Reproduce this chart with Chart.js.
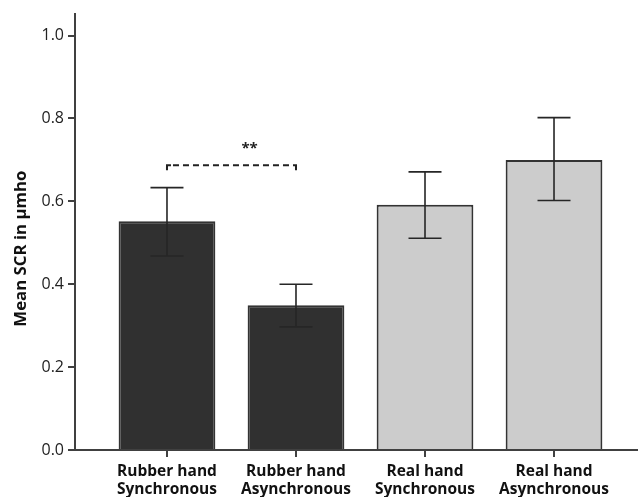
<!DOCTYPE html>
<html>
<head>
<meta charset="utf-8">
<script src="https://cdn.jsdelivr.net/npm/chart.js@4/dist/chart.umd.min.js"></script>
<style>
  html, body { margin: 0; padding: 0; background: #fff; }
  #wrap { width: 638px; height: 497px; }
</style>
</head>
<body>
<div id="wrap"><canvas id="scrChart"></canvas></div>
<script>
// Data
const categories = [['Rubber hand', 'Synchronous'], ['Rubber hand', 'Asynchronous'], ['Real hand', 'Synchronous'], ['Real hand', 'Asynchronous']];
const positions = [1, 2, 3, 4];
const meanScr = [0.552, 0.349, 0.592, 0.700];
const errLow = [0.468, 0.297, 0.511, 0.602];
const errHigh = [0.633, 0.400, 0.671, 0.802];
const yTicks = [0, 0.2, 0.4, 0.6, 0.8, 1.0];
const yTitle = 'Mean SCR in µmho';
const barColors = ['#303030', '#303030', '#cccccc', '#cccccc'];
// significance bracket between the two rubber hand conditions
const sigPair = [1, 2];
const sigLevel = 0.687;
const sigLabel = '**';

const axisColor = '#404040';

// Error bars, significance bracket and the y title
const errorBars = {
    id: 'errorBars',
    afterDatasetsDraw(chart) {
        const ctx = chart.ctx;
        const x = chart.scales.x;
        const y = chart.scales.y;
        ctx.save();
        ctx.strokeStyle = '#262626';
        ctx.lineWidth = 1.6;
        positions.forEach((p, i) => {
            const px = x.getPixelForValue(p);
            const top = y.getPixelForValue(errHigh[i]);
            const bot = y.getPixelForValue(errLow[i]);
            ctx.beginPath();
            ctx.moveTo(px, top); ctx.lineTo(px, bot);
            ctx.moveTo(px - 16.5, top); ctx.lineTo(px + 16.5, top);
            ctx.moveTo(px - 16.5, bot); ctx.lineTo(px + 16.5, bot);
            ctx.stroke();
        });

        // dashed bracket
        const x1 = x.getPixelForValue(sigPair[0]);
        const x2 = x.getPixelForValue(sigPair[1]);
        const sy = y.getPixelForValue(sigLevel);
        ctx.lineWidth = 2;
        ctx.strokeStyle = '#222';
        ctx.setLineDash([6, 4]);
        ctx.beginPath();
        ctx.moveTo(x1 + 6, sy); ctx.lineTo(x2 - 4, sy);
        ctx.stroke();
        ctx.setLineDash([]);
        ctx.beginPath();
        ctx.moveTo(x1, sy + 5); ctx.lineTo(x1, sy); ctx.lineTo(x1 + 4, sy);
        ctx.moveTo(x2 - 3, sy); ctx.lineTo(x2, sy); ctx.lineTo(x2, sy + 5);
        ctx.stroke();

        ctx.fillStyle = '#222';
        ctx.font = 'bold 15px "Open Sans"';
        ctx.textAlign = 'center';
        ctx.textBaseline = 'middle';
        ctx.fillText(sigLabel, x.getPixelForValue(1.64), sy - 17);

        // y title sits a bit below the axis middle in the original
        ctx.translate(21, y.getPixelForValue(0.486));
        ctx.rotate(-Math.PI / 2);
        ctx.fillStyle = '#111';
        ctx.font = 'bold 16.8px "Open Sans"';
        ctx.fillText(yTitle, 0, 0);
        ctx.restore();
    }
};

new Chart(document.getElementById('scrChart'), {
    type: 'bar',
    data: {
        datasets: [{
            data: positions.map((p, i) => ({ x: p, y: meanScr[i] })),
            backgroundColor: barColors,
            borderColor: '#333333',
            borderWidth: 2,
            categoryPercentage: 1,
            barPercentage: 0.75
        }]
    },
    options: {
        responsive: true,
        maintainAspectRatio: false,
        animation: false,
        layout: { padding: { top: 13, right: 0, left: 0, bottom: 0 } },
        plugins: {
            legend: { display: false },
            tooltip: { enabled: false }
        },
        scales: {
            x: {
                type: 'linear',
                offset: false,
                min: 0.287,
                max: 4.651,
                afterBuildTicks: s => { s.ticks = positions.map(v => ({ value: v })); },
                afterFit: s => { s.height = 47; },
                ticks: {
                    callback: (v, i) => categories[i],
                    color: '#111',
                    font: { family: '"Open Sans"', size: 15.5, weight: 'bold', lineHeight: 1.18 },
                    padding: 5,
                    maxRotation: 0,
                    autoSkip: false
                },
                grid: { display: true, offset: false, drawOnChartArea: false, drawTicks: true, tickLength: 7, color: axisColor, lineWidth: 2 },
                border: { display: true, color: axisColor, width: 2 }
            },
            y: {
                min: 0,
                max: 1.053,
                afterBuildTicks: s => { s.ticks = yTicks.map(v => ({ value: v })); },
                afterFit: s => { s.width = 75; },
                ticks: {
                    callback: v => v.toFixed(1),
                    color: '#222',
                    font: { family: '"Open Sans"', size: 16 },
                    padding: 4
                },
                grid: { display: true, drawOnChartArea: false, drawTicks: true, tickLength: 7, color: axisColor, lineWidth: 2 },
                border: { display: true, color: axisColor, width: 2 }
            }
        }
    },
    plugins: [errorBars]
});
</script>
</body>
</html>
